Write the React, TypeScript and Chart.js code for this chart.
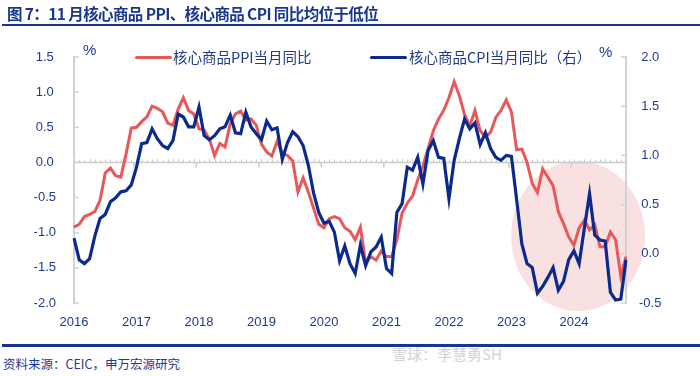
import React, { useEffect, useRef } from 'react';
import { Chart, registerables } from 'chart.js';

Chart.register(...registerables);

// ---- data ----
const years = [2016, 2017, 2018, 2019, 2020, 2021, 2022, 2023, 2024];
const lastYearMonths = 11; // data through 2024-11

const monthLabels: string[] = [];
years.forEach((y) => {
  const n = y === years[years.length - 1] ? lastYearMonths : 12;
  for (let m = 1; m <= n; m++) monthLabels.push(`${y}-${String(m).padStart(2, '0')}`);
});

// 核心商品PPI当月同比 (left axis, %)
const ppiCore = [
  -0.92, -0.88, -0.77, -0.74, -0.70, -0.54, -0.15, -0.08, -0.19, -0.21,
  0.12, 0.49, 0.50, 0.58, 0.65, 0.80, 0.77, 0.72, 0.56, 0.53,
  0.76, 0.92, 0.74, 0.69, 0.48, 0.46, 0.33, 0.10, 0.27, 0.22,
  0.55, 0.69, 0.73, 0.60, 0.62, 0.53, 0.26, 0.15, 0.09, 0.30,
  0.13, 0.10, 0.02, -0.42, -0.22, -0.42, -0.65, -0.88, -0.93, -0.80,
  -0.77, -0.80, -0.93, -0.98, -1.10, -0.92, -1.43, -1.34, -1.39, -1.26,
  -1.34, -1.34, -1.10, -0.72, -0.58, -0.48, -0.25, -0.05, 0.20, 0.45,
  0.62, 0.74, 0.92, 1.15, 0.95, 0.68, 0.52, 0.74, 0.45, 0.36,
  0.43, 0.64, 0.74, 0.89, 0.72, 0.18, 0.19, 0.00, -0.30, -0.43,
  -0.09, -0.21, -0.33, -0.70, -0.87, -1.06, -1.18, -0.93, -0.82, -0.96,
  -0.89, -1.20, -1.20, -0.99, -1.10, -1.62, -1.34,
];

// 核心商品CPI当月同比 (right axis, %)
const cpiCore = [
  0.16, -0.06, -0.10, -0.05, 0.18, 0.36, 0.40, 0.53, 0.57, 0.63,
  0.64, 0.70, 0.88, 1.12, 1.13, 1.27, 1.17, 1.10, 1.07, 1.15,
  1.42, 1.39, 1.29, 1.29, 1.49, 1.20, 1.16, 1.20, 1.27, 1.29,
  1.41, 1.23, 1.22, 1.44, 1.29, 1.22, 1.16, 1.35, 1.26, 1.28,
  0.96, 1.13, 1.24, 1.19, 1.10, 0.90, 0.62, 0.42, 0.31, 0.33,
  0.22, -0.07, 0.08, -0.10, -0.20, 0.09, -0.12, 0.02, 0.07, 0.17,
  -0.15, -0.20, 0.42, 0.51, 0.88, 0.85, 0.98, 0.71, 1.05, 1.15,
  0.98, 0.97, 0.56, 0.95, 1.17, 1.37, 1.27, 1.33, 1.11, 1.23,
  1.07, 0.98, 0.95, 1.00, 0.99, 0.55, 0.10, -0.10, -0.14, -0.40,
  -0.33, -0.24, -0.14, -0.37, -0.28, -0.06, 0.03, -0.10, 0.26, 0.61,
  0.19, 0.14, 0.13, -0.39, -0.47, -0.46, -0.06,
];

const leftAxis = { min: -2, max: 1.5, step: 0.5 };
const rightAxis = { min: -0.5, max: 2.0, step: 0.5 };

const RED = '#E8585A';
const BLUE = '#0B2A8C';
const TXT = '#1F3A8F';
const AXIS_GREY = '#D2D2D2';

const decorPlugin = {
  id: 'decor',
  beforeDraw(chart: any) {
    const { ctx, scales } = chart;
    const x = scales.x;
    const yr = scales.y1;
    // highlight ellipse around the latest period
    const cx = x.getPixelForValue(96.8);
    const cy = yr.getPixelForValue(0.18);
    ctx.save();
    ctx.fillStyle = '#F9E1E1';
    ctx.beginPath();
    ctx.ellipse(cx, cy, 67, 75, 0, 0, Math.PI * 2);
    ctx.fill();
    ctx.restore();
  },
  beforeDatasetsDraw(chart: any) {
    const { ctx, scales, chartArea } = chart;
    const x = scales.x;
    const yl = scales.y;
    const yr = scales.y1;
    const y0 = yl.getPixelForValue(0);
    ctx.save();
    ctx.strokeStyle = '#CBCBCB';
    ctx.lineWidth = 1.5;
    ctx.beginPath();
    ctx.moveTo(chartArea.left, y0);
    ctx.lineTo(chartArea.right, y0);
    ctx.stroke();
    ctx.lineWidth = 1;
    for (let i = 0; i < monthLabels.length; i++) {
      const px = Math.round(x.getPixelForValue(i)) + 0.5;
      ctx.beginPath();
      ctx.moveTo(px, y0 - 3);
      ctx.lineTo(px, y0);
      ctx.stroke();
    }
    ctx.lineWidth = 1.5;
    for (let i = 12; i < monthLabels.length; i += 12) {
      const px = x.getPixelForValue(i - 0.5);
      ctx.beginPath();
      ctx.moveTo(px, y0);
      ctx.lineTo(px, y0 + 5);
      ctx.stroke();
    }
    // inward tick marks on the value axes
    ctx.strokeStyle = AXIS_GREY;
    ctx.lineWidth = 1.5;
    yl.ticks.forEach((t: any) => {
      const py = yl.getPixelForValue(t.value);
      ctx.beginPath();
      ctx.moveTo(chartArea.left, py);
      ctx.lineTo(chartArea.left + 5, py);
      ctx.stroke();
    });
    yr.ticks.forEach((t: any) => {
      const py = yr.getPixelForValue(t.value);
      ctx.beginPath();
      ctx.moveTo(chartArea.right - 5, py);
      ctx.lineTo(chartArea.right, py);
      ctx.stroke();
    });
    ctx.restore();
  },
};

export default function App() {
  const ref = useRef<HTMLCanvasElement>(null);

  useEffect(() => {
    document.body.style.margin = '0';
    Chart.defaults.font.family = '"Liberation Sans", Arial, sans-serif';
    const chart = new Chart(ref.current as HTMLCanvasElement, {
      type: 'line',
      data: {
        labels: monthLabels,
        datasets: [
          {
            label: '核心商品CPI当月同比（右）',
            data: cpiCore,
            yAxisID: 'y1',
            borderColor: BLUE,
            borderWidth: 3.2,
            pointRadius: 0,
            tension: 0,
            order: 0,
          },
          {
            label: '核心商品PPI当月同比',
            data: ppiCore,
            yAxisID: 'y',
            borderColor: RED,
            borderWidth: 3,
            pointRadius: 0,
            tension: 0,
            order: 1,
          },
        ],
      },
      options: {
        responsive: false,
        animation: false,
        layout: { padding: { top: 57, left: 0, right: 0, bottom: 0 } },
        plugins: { legend: { display: false }, tooltip: { enabled: false } },
        scales: {
          x: {
            type: 'category',
            grid: { display: true, drawOnChartArea: false, drawTicks: false },
            border: { display: false },
            ticks: {
              autoSkip: false,
              maxRotation: 0,
              minRotation: 0,
              padding: 12,
              color: TXT,
              font: { size: 13 },
              callback: (_v: any, i: number) => (i % 12 === 0 ? String(years[i / 12]) : ''),
            },
            afterFit: (s: any) => {
              s.height = 37;
            },
          },
          y: {
            position: 'left',
            min: leftAxis.min,
            max: leftAxis.max,
            grid: { display: true, drawOnChartArea: false, drawTicks: false },
            border: { display: true, color: AXIS_GREY, width: 2 },
            ticks: {
              stepSize: leftAxis.step,
              crossAlign: 'center',
              padding: 18,
              color: TXT,
              font: { size: 13 },
              callback: (v: any) => Number(v).toFixed(1),
            },
            afterFit: (s: any) => {
              s.width = 74;
            },
          },
          y1: {
            position: 'right',
            min: rightAxis.min,
            max: rightAxis.max,
            grid: { display: true, drawOnChartArea: false, drawTicks: false },
            border: { display: true, color: AXIS_GREY, width: 2 },
            ticks: {
              stepSize: rightAxis.step,
              crossAlign: 'center',
              padding: 13,
              color: TXT,
              font: { size: 13 },
              callback: (v: any) => Number(v).toFixed(1),
            },
            afterFit: (s: any) => {
              s.width = 74;
            },
          },
        },
      } as any,
      plugins: [decorPlugin],
    });
    return () => chart.destroy();
  }, []);

  const cjk = '"Noto Sans CJK SC", "Noto Sans", sans-serif';

  return (
    <div
      style={{
        position: 'relative',
        width: 700,
        height: 376,
        background: '#fff',
        overflow: 'hidden',
        fontFamily: cjk,
      }}
    >
      <canvas
        ref={ref}
        width={700}
        height={340}
        style={{ position: 'absolute', left: 0, top: 0, width: 700, height: 340 }}
      />
      <div
        style={{
          position: 'absolute',
          left: 7,
          top: 1.5,
          fontSize: 15.5,
          fontWeight: 700,
          color: '#17378E',
          whiteSpace: 'nowrap',
          lineHeight: '22px',
          letterSpacing: -0.6,
        }}
      >
        图 7：11 月核心商品 PPI、核心商品 CPI 同比均位于低位
      </div>
      <div style={{ position: 'absolute', left: 2, top: 24, width: 698, height: 2, background: '#17378E' }} />

      <div style={{ position: 'absolute', left: 83, top: 41, fontSize: 15, color: TXT, fontFamily: '"Liberation Sans", Arial' }}>%</div>
      <div style={{ position: 'absolute', left: 599, top: 43, fontSize: 15, color: TXT, fontFamily: '"Liberation Sans", Arial' }}>%</div>

      <div style={{ position: 'absolute', left: 135, top: 55.5, width: 37, height: 3, borderRadius: 1.5, background: RED }} />
      <div style={{ position: 'absolute', left: 173, top: 47, fontSize: 14.5, lineHeight: '20px', color: TXT, whiteSpace: 'nowrap' }}>
        核心商品PPI当月同比
      </div>
      <div style={{ position: 'absolute', left: 370, top: 55.5, width: 37, height: 3, borderRadius: 1.5, background: BLUE }} />
      <div style={{ position: 'absolute', left: 409, top: 47, fontSize: 14.5, lineHeight: '20px', color: TXT, whiteSpace: 'nowrap' }}>
        核心商品CPI当月同比（右）
      </div>

      <div style={{ position: 'absolute', left: 2, top: 344, width: 698, height: 2.5, background: '#17378E' }} />
      <div style={{ position: 'absolute', left: 3, top: 354, fontSize: 12.5, lineHeight: '20px', color: TXT, whiteSpace: 'nowrap' }}>
        资料来源：CEIC，申万宏源研究
      </div>
      <div
        style={{
          position: 'absolute',
          left: 392,
          top: 343,
          fontSize: 15,
          lineHeight: '22px',
          color: 'rgba(190,190,190,0.7)',
          whiteSpace: 'nowrap',
        }}
      >
        雪球：李慧勇SH
      </div>
    </div>
  );
}
